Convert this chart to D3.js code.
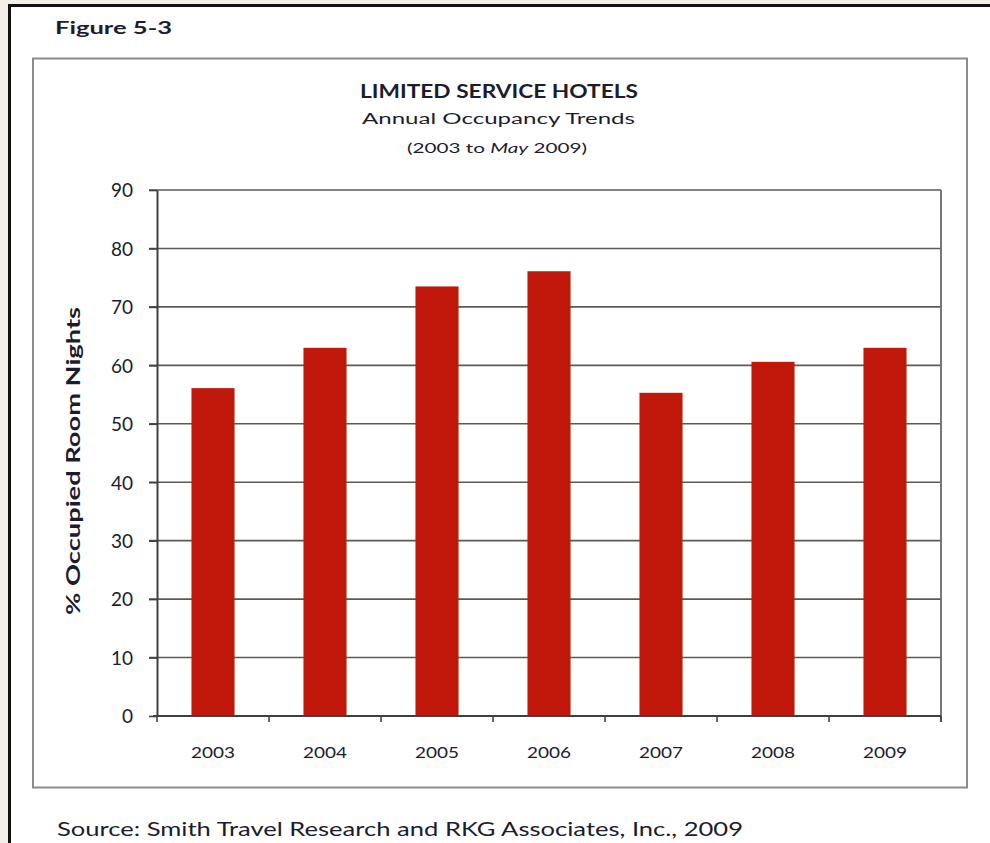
<!DOCTYPE html>
<html>
<head>
<meta charset="utf-8">
<script src="https://cdn.jsdelivr.net/npm/d3@7"></script>
<style>
  html, body { margin: 0; padding: 0; background: #f3efe8; }
  svg { display: block; }
  text { font-family: Lato, "Open Sans", sans-serif; fill: #1c1c2c; }
</style>
</head>
<body>
<svg id="chart" width="990" height="843"></svg>
<script>
// Limited service hotel occupancy, 2003 to May 2009
const years = ["2003", "2004", "2005", "2006", "2007", "2008", "2009"];
const occupancy = [56.1, 63.0, 73.5, 76.1, 55.3, 60.6, 63.0];
const yTicks = [0, 10, 20, 30, 40, 50, 60, 70, 80, 90];

const figureLabel = "Figure 5-3";
const title = "LIMITED SERVICE HOTELS";
const subtitle = "Annual Occupancy Trends";
const yTitle = "% Occupied Room Nights";
const sourceNote = "Source:  Smith Travel Research and RKG Associates, Inc., 2009";

const svg = d3.select("#chart");

// white page with black top/left rule
svg.append("rect")
  .attr("x", 9.5).attr("y", 5.5)
  .attr("width", 1100).attr("height", 1000)
  .attr("fill", "#ffffff")
  .attr("stroke", "#111").attr("stroke-width", 3);

svg.append("text")
  .attr("x", 55).attr("y", 34)
  .attr("font-size", 16.5).attr("font-weight", 700)
  .attr("textLength", 117).attr("lengthAdjust", "spacingAndGlyphs")
  .text(figureLabel);

// chart frame
svg.append("rect")
  .attr("x", 33).attr("y", 58.5)
  .attr("width", 934).attr("height", 729)
  .attr("fill", "#fff")
  .attr("stroke", "#8c8c8c").attr("stroke-width", 2);

// titles
svg.append("text")
  .attr("x", 360).attr("y", 97.5)
  .attr("font-size", 18.5).attr("font-weight", 700)
  .attr("textLength", 278).attr("lengthAdjust", "spacingAndGlyphs")
  .text(title);

svg.append("text")
  .attr("x", 362).attr("y", 124)
  .attr("font-size", 15.5)
  .attr("textLength", 273).attr("lengthAdjust", "spacingAndGlyphs")
  .text(subtitle);

const range = svg.append("text")
  .attr("x", 407).attr("y", 153)
  .attr("font-size", 13.5)
  .attr("textLength", 180).attr("lengthAdjust", "spacingAndGlyphs");
range.append("tspan").text("(2003 to ");
range.append("tspan").attr("font-style", "italic").text("May");
range.append("tspan").text(" 2009)");

// plot area
const plot = { left: 157, right: 941, top: 190, bottom: 716 };

const x = d3.scaleBand()
  .domain(years)
  .range([plot.left, plot.right])
  .paddingInner(0).paddingOuter(0);

const y = d3.scaleLinear()
  .domain([0, 90])
  .range([plot.bottom, plot.top]);

// horizontal gridlines
svg.append("g")
  .selectAll("line")
  .data(yTicks.filter(d => d > 0))
  .join("line")
  .attr("x1", plot.left - 8).attr("x2", plot.right)
  .attr("y1", d => y(d)).attr("y2", d => y(d))
  .attr("stroke", "#5a5a5a").attr("stroke-width", 1.6);

// right edge of plot
svg.append("line")
  .attr("x1", plot.right).attr("x2", plot.right)
  .attr("y1", plot.top).attr("y2", plot.bottom + 6)
  .attr("stroke", "#6a6a6a").attr("stroke-width", 1.8);

// bars (gap width 160%)
const barW = x.step() / 2.6;
svg.append("g")
  .selectAll("rect")
  .data(years.map((yr, i) => ({ yr, v: occupancy[i] })))
  .join("rect")
  .attr("x", d => x(d.yr) + (x.step() - barW) / 2)
  .attr("width", barW)
  .attr("y", d => y(d.v))
  .attr("height", d => y(0) - y(d.v))
  .attr("fill", "#c0190b");

// y axis
const yAxis = svg.append("g")
  .attr("transform", `translate(${plot.left},0)`)
  .call(d3.axisLeft(y).tickValues(yTicks).tickSize(8).tickPadding(16).tickSizeOuter(0));
yAxis.select(".domain").attr("stroke", "#404040").attr("stroke-width", 2);
yAxis.selectAll(".tick line").attr("stroke", "#404040").attr("stroke-width", 1.6);
yAxis.selectAll(".tick text")
  .attr("font-size", 19)
  .attr("font-family", "Lato, sans-serif")
  .attr("fill", "#1c1c3a")
  .attr("dy", "0.36em");

// x axis with tick marks between categories
const xAxis = svg.append("g")
  .attr("transform", `translate(0,${plot.bottom})`);
xAxis.append("line")
  .attr("x1", plot.left - 4).attr("x2", plot.right)
  .attr("stroke", "#404040").attr("stroke-width", 2);
xAxis.selectAll("line.sep")
  .data(years.map(d => x(d)).concat([plot.right]))
  .join("line")
  .attr("class", "sep")
  .attr("x1", d => d).attr("x2", d => d)
  .attr("y1", 0).attr("y2", 6)
  .attr("stroke", "#404040").attr("stroke-width", 1.6);
xAxis.selectAll("text")
  .data(years)
  .join("text")
  .attr("x", d => x(d) + x.bandwidth() / 2)
  .attr("y", 42)
  .attr("text-anchor", "middle")
  .attr("font-size", 15)
  .attr("textLength", 44).attr("lengthAdjust", "spacingAndGlyphs")
  .text(d => d);

// y axis title
svg.append("text")
  .attr("transform", "translate(80,615) rotate(-90)")
  .attr("font-size", 19).attr("font-weight", 700)
  .attr("textLength", 308).attr("lengthAdjust", "spacingAndGlyphs")
  .text(yTitle);

// source line
svg.append("text")
  .attr("x", 57).attr("y", 836)
  .attr("font-size", 20)
  .attr("textLength", 686).attr("lengthAdjust", "spacingAndGlyphs")
  .text(sourceNote);
</script>
</body>
</html>
